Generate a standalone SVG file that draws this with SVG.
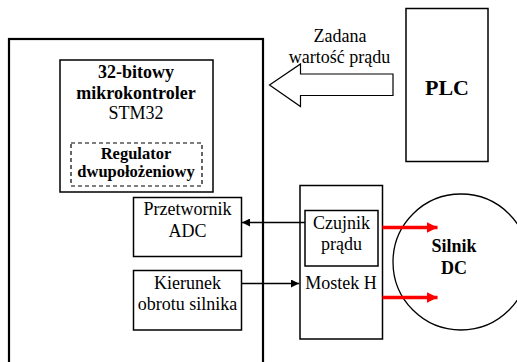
<svg xmlns="http://www.w3.org/2000/svg" width="517" height="362" viewBox="0 0 517 362">
<style>
text{font-family:"Liberation Serif","Times New Roman",serif;font-size:18px;text-anchor:middle;fill:#000}
.b{font-weight:bold}
.box{fill:#fff;stroke:#000;stroke-width:1.5}
.ln{stroke:#000;stroke-width:1.5;fill:none}
.red{stroke:#ff0000;stroke-width:3.5;fill:none}
</style>
<defs>
<marker id="ah" viewBox="0 0 10 10" refX="10" refY="5" markerWidth="9" markerHeight="8" markerUnits="userSpaceOnUse" orient="auto">
<path d="M0,0 L10,5 L0,10 Z" fill="#000"/>
</marker>
<marker id="rh" viewBox="0 0 10 10" refX="10" refY="5" markerWidth="11" markerHeight="11" markerUnits="userSpaceOnUse" orient="auto">
<path d="M0,0 L10,5 L0,10 Z" fill="#ff0000"/>
</marker>
</defs>
<g id="outer">
<rect x="9" y="39" width="254" height="340" fill="#fff" stroke="#000" stroke-width="2.2"/>
</g>
<g id="mcu">
<rect class="box" x="60" y="60" width="153" height="132" stroke-width="1.2"/>
<text class="b" x="136" y="78">32-bitowy</text>
<text class="b" x="136" y="99">mikrokontroler</text>
<text x="136" y="119">STM32</text>
</g>
<g id="regulator">
<rect x="71" y="143" width="131" height="43" fill="#fff" stroke="#000" stroke-width="1.2" stroke-dasharray="4,3"/>
<text class="b" x="136" y="159" style="font-size:16.5px">Regulator</text>
<text class="b" x="136" y="177" style="font-size:16.5px">dwupołożeniowy</text>
</g>
<g id="adc">
<rect class="box" x="133.5" y="197.5" width="108" height="59"/>
<text x="187.5" y="215">Przetwornik</text>
<text x="187.5" y="236.5">ADC</text>
</g>
<g id="kierunek">
<rect class="box" x="133.5" y="270.5" width="108" height="59.5"/>
<text x="187.5" y="288.5">Kierunek</text>
<text x="187.5" y="310">obrotu silnika</text>
</g>
<g id="plc">
<rect class="box" x="406" y="8.5" width="82" height="153"/>
<text class="b" x="447" y="95" style="font-size:22px">PLC</text>
</g>
<g id="mostek">
<rect class="box" x="300" y="185.5" width="82.5" height="153.5"/>
<text x="341" y="288.5">Mostek H</text>
</g>
<g id="czujnik">
<rect class="box" x="305" y="210.5" width="73" height="55.5"/>
<text x="341.5" y="228.5">Czujnik</text>
<text x="341.5" y="250">prądu</text>
</g>
<g id="silnik">
<circle cx="461" cy="262" r="68" fill="none" stroke="#000" stroke-width="1.3"/>
<text class="b" x="454" y="251.5">Silnik</text>
<text class="b" x="454" y="273.5">DC</text>
</g>
<g id="connectors">
<path d="M393,74 L300.5,74 L300.5,64 L269.5,85 L300.5,106.5 L300.5,95.5 L393,95.5 Z" fill="#fff" stroke="#000" stroke-width="1.2"/>
<text x="340" y="41.5">Zadana</text>
<text x="339.5" y="62.5">wartość prądu</text>
<line class="ln" x1="305" y1="222.5" x2="242" y2="222.5" marker-end="url(#ah)"/>
<line class="ln" x1="241.5" y1="283.5" x2="299" y2="283.5" marker-end="url(#ah)"/>
<line class="red" x1="382.5" y1="227.5" x2="437.5" y2="227.5" marker-end="url(#rh)"/>
<line class="red" x1="382.5" y1="297.5" x2="437.5" y2="297.5" marker-end="url(#rh)"/>
</g>
</svg>
